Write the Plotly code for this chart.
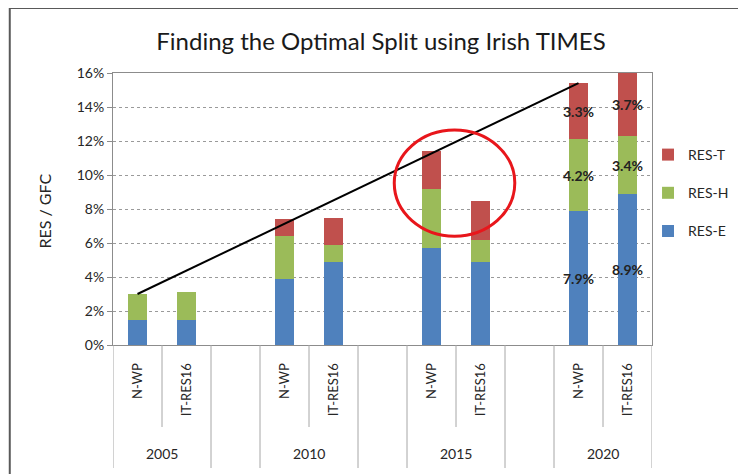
import plotly.graph_objects as go

# ---- data ----
years = ["2005", "2010", "2015", "2020"]
scenarios = ["N-WP", "IT-RES16"]
res_e = [1.5, 1.5, 3.9, 4.9, 5.7, 4.9, 7.9, 8.9]
res_h = [1.5, 1.6, 2.5, 1.0, 3.5, 1.3, 4.2, 3.4]
res_t = [0.0, 0.0, 1.0, 1.6, 2.2, 2.3, 3.3, 3.7]
labelled_year = "2020"

# ---- positions (3 slots per year: two scenarios + a gap) ----
pos, yr_of, sc_of = [], [], []
for yi, y in enumerate(years):
    for si, s in enumerate(scenarios):
        pos.append(yi * 3 + si)
        yr_of.append(y)
        sc_of.append(s)

def lbl(vals):
    return [f"<b>{v:.1f}%</b>" if yr_of[i] == labelled_year else "" for i, v in enumerate(vals)]

BLUE, GREEN, RED = "#4F81BD", "#9BBB59", "#C0504D"
FONT = "Lato"
OFF = 8  # page body margin
W, H = 746 - OFF, 474 - OFF
L = 113 - OFF
T = 73 - OFF
R = W - (656 - OFF)
B = H - (345 - OFF)
PW, PH = W - L - R, H - T - B

def px2paper_x(px):  # px in page coordinates
    return (px - OFF - L) / PW

def py2paper_y(py):
    return (H - B - (py - OFF)) / PH

fig = go.Figure()
for name, vals, col, grp, rank in [("RES-E", res_e, BLUE, "e", 3), ("RES-H", res_h, GREEN, "h", 2),
                                    ("RES-T", res_t, RED, "t", 1)]:
    fig.add_trace(go.Bar(
        x=pos, y=vals, name=name, marker=dict(color=col, line=dict(width=0)),
        width=0.4, text=lbl(vals), textposition="inside", insidetextanchor="middle", textangle=0,
        textfont=dict(color="#222222", size=14, family=FONT), legendgroup=grp, legendrank=rank,
        hoverinfo="skip",
    ))

# trend line between N-WP totals of first and last year
totals = [e + h + t for e, h, t in zip(res_e, res_h, res_t)]
i0 = 0
i1 = (len(years) - 1) * 2
fig.add_trace(go.Scatter(x=[pos[i0], pos[i1]], y=[totals[i0], totals[i1]], mode="lines",
                         line=dict(color="black", width=2), showlegend=False, hoverinfo="skip"))

shapes = []
# separator lines below axis
short_y = py2paper_y(427)
long_y = py2paper_y(468)
for yi in range(len(years)):
    g = yi * 3
    shapes.append(dict(type="line", xref="x", yref="paper", x0=g + 0.5, x1=g + 0.5, y0=0, y1=short_y,
                       line=dict(color="#A6A6A6", width=1)))
    for xb in (g - 0.5, g + 1.5):
        shapes.append(dict(type="line", xref="x", yref="paper", x0=xb, x1=xb, y0=0, y1=long_y,
                           line=dict(color="#A6A6A6", width=1)))

# red ellipse around 2015 group
g15 = years.index("2015") * 3
shapes.append(dict(type="circle", xref="x", yref="y", x0=g15 - 0.76, x1=g15 + 1.70, y0=6.4, y1=12.65,
                   line=dict(color="#E8161B", width=3)))

# outer chart frame (left and top edges visible)
fx = px2paper_x(9)
fy = py2paper_y(8)
shapes.append(dict(type="line", xref="paper", yref="paper", x0=fx, x1=fx, y0=py2paper_y(480), y1=fy,
                   line=dict(color="#595959", width=2)))
shapes.append(dict(type="line", xref="paper", yref="paper", x0=fx, x1=px2paper_x(760), y0=fy, y1=fy,
                   line=dict(color="#595959", width=2)))

annotations = []
for yi, y in enumerate(years):
    annotations.append(dict(x=yi * 3 + 0.5, y=py2paper_y(453), xref="x", yref="paper", text=y,
                            showarrow=False, font=dict(family=FONT, size=14, color="#262626"),
                            xanchor="center", yanchor="middle"))
annotations.append(dict(x=px2paper_x(43), y=py2paper_y(211), xref="paper", yref="paper", text="RES / GFC",
                        textangle=-90, showarrow=False, font=dict(family=FONT, size=16, color="#262626"),
                        xanchor="center", yanchor="middle"))

fig.update_layout(
    width=W, height=H, margin=dict(l=L, r=R, t=T, b=B),
    plot_bgcolor="white", paper_bgcolor="white",
    barmode="stack", bargap=0,
    uniformtext=dict(mode="show", minsize=14),
    title=dict(text="Finding the Optimal Split using Irish TIMES", x=(381 - OFF) / W, xref="container",
               xanchor="center", y=1 - (42 - OFF) / H, yref="container", yanchor="middle",
               font=dict(family=FONT, size=24, color="#1a1a1a")),
    font=dict(family=FONT, size=13, color="#262626"),
    xaxis=dict(range=[-0.5, len(years) * 3 - 1.5], tickvals=pos, ticktext=sc_of, tickangle=-90,
               showgrid=False, zeroline=False, showline=True, linecolor="#8C8C8C", linewidth=1,
               mirror=True, ticks="", ticklabelstandoff=12, tickfont=dict(size=13, family=FONT)),
    yaxis=dict(range=[0, 16], dtick=2, ticksuffix="%", showgrid=True, gridcolor="#9A9A9A",
               griddash="dot", gridwidth=1, zeroline=False, showline=True, linecolor="#8C8C8C",
               linewidth=1, mirror=True, ticks="outside", ticklen=5, tickcolor="#8C8C8C",
               tickfont=dict(size=14, family=FONT)),
    legend=dict(x=px2paper_x(652), y=py2paper_y(139), xanchor="left", yanchor="top",
                traceorder="grouped", tracegroupgap=17, font=dict(size=14, family=FONT),
                bgcolor="rgba(0,0,0,0)"),
    shapes=shapes, annotations=annotations,
)

fig.write_html("out.html")
